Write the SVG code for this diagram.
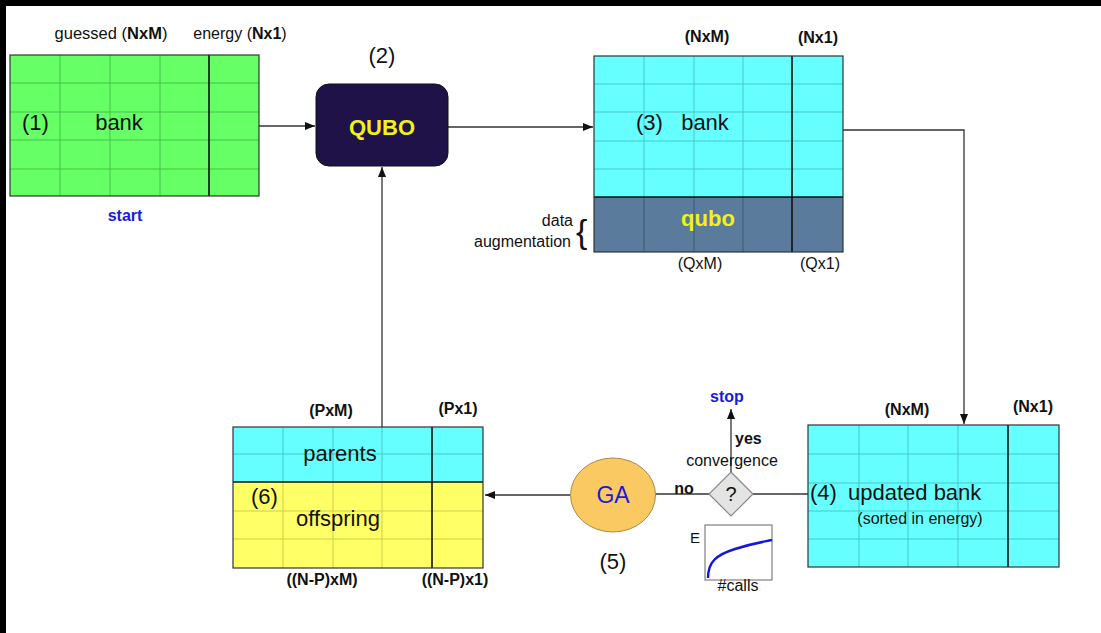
<svg xmlns="http://www.w3.org/2000/svg" width="1101" height="633" viewBox="0 0 1101 633">
<defs>
<style>
text{font-family:"Liberation Sans",Arial,sans-serif;fill:#111}
.s16{font-size:16px}
.s22{font-size:22px}
.b{font-weight:bold}
.mid{text-anchor:middle}
.end{text-anchor:end}
.blue{fill:#1a1adc}
.yel{fill:#f2f21a}
.gg{stroke:#45c445;stroke-width:1}
.cg{stroke:#45c8c8;stroke-width:1}
.qg{stroke:#3e5a74;stroke-width:1}
.yg{stroke:#cfcf48;stroke-width:1}
.div{stroke:#111;stroke-width:1.6}
.out{fill:none;stroke:#333;stroke-width:1.2}
.con{fill:none;stroke:#333;stroke-width:1.3}
</style>
<marker id="ah" viewBox="0 0 10 10" refX="10" refY="5" markerWidth="10" markerHeight="10" markerUnits="userSpaceOnUse" orient="auto">
<path d="M0,1 L10,5 L0,9 z" fill="#111"/>
</marker>
</defs>
<rect x="0" y="0" width="1101" height="633" fill="#fff"/>
<rect x="0" y="0" width="1101" height="6" fill="#000"/>
<rect x="0" y="0" width="6" height="633" fill="#000"/>

<g id="connectors">
<path class="con" d="M259,126 H315" marker-end="url(#ah)"/>
<path class="con" d="M448,127 H593" marker-end="url(#ah)"/>
<path class="con" d="M843,130 H964 V424" marker-end="url(#ah)"/>
<path class="con" d="M808,494 H753"/>
<path class="con" d="M709,494 H655"/>
<path class="con" d="M570,495 H485" marker-end="url(#ah)"/>
<path class="con" d="M731,472 V409" marker-end="url(#ah)"/>
<path class="con" d="M382,427 V167" marker-end="url(#ah)"/>
</g>

<g id="bank1">
<rect x="10" y="55" width="249" height="141" fill="#66ff66"/>
<path class="gg" d="M60,55V196M110,55V196M160,55V196M10,83H259M10,112H259M10,140H259M10,169H259"/>
<path class="div" d="M209,55V196"/>
<rect class="out" x="10" y="55" width="249" height="141"/>
<text class="mid" x="111" y="39" style="font-size:16.5px">guessed (<tspan class="b">NxM</tspan>)</text>
<text class="s16 mid" x="240" y="39">energy (<tspan class="b">Nx1</tspan>)</text>
<text class="s22" x="22" y="130">(1)</text>
<text class="s22 mid" x="119" y="130">bank</text>
<text class="s16 b mid blue" x="125" y="221">start</text>
</g>

<g id="qubo">
<rect x="316" y="84" width="132" height="82" rx="13" fill="#1e1248" stroke="#111" stroke-width="1"/>
<text class="s22 mid b yel" x="382" y="135">QUBO</text>
<text class="s22 mid" x="382" y="63">(2)</text>
</g>

<g id="bank3">
<rect x="594" y="56" width="249" height="141" fill="#66ffff"/>
<rect x="594" y="197" width="249" height="55" fill="#5a7b9b"/>
<path class="cg" d="M644,56V197M694,56V197M743,56V197M594,84H843M594,112H843M594,141H843M594,169H843"/>
<path class="qg" d="M644,197V252M694,197V252M743,197V252"/>
<path class="div" d="M792,56V252M594,197H843"/>
<rect class="out" x="594" y="56" width="249" height="196"/>
<text class="s16 b mid" x="707" y="42">(NxM)</text>
<text class="s16 b mid" x="818" y="43">(Nx1)</text>
<text class="s22" x="636" y="130">(3)</text>
<text class="s22 mid" x="705" y="130">bank</text>
<text class="s22 b mid yel" x="708" y="226">qubo</text>
<text class="s16 mid" x="700" y="269">(QxM)</text>
<text class="s16 mid" x="820" y="269">(Qx1)</text>
<text class="s16 end" x="573" y="226">data</text>
<text class="s16 end" x="571" y="247">augmentation</text>
<text x="576" y="243" style="font-size:34px">{</text>
</g>

<g id="bank4">
<rect x="808" y="425" width="251" height="142" fill="#66ffff"/>
<path class="cg" d="M859,425V567M908,425V567M958,425V567M808,454H1059M808,483H1059M808,511H1059M808,539H1059"/>
<path class="div" d="M1008,425V567"/>
<rect class="out" x="808" y="425" width="251" height="142"/>
<text class="s16 b mid" x="907" y="415">(NxM)</text>
<text class="s16 b mid" x="1033" y="412">(Nx1)</text>
<text class="s22" x="810" y="500">(4)</text>
<text class="s22" x="848" y="500">updated bank</text>
<text class="s16 mid" x="920" y="524">(sorted in energy)</text>
</g>

<g id="decision">
<polygon points="731,472 753,494 731,516 709,494" fill="#e4e4e4" stroke="#888" stroke-width="1.2"/>
<text class="mid" x="731" y="501" style="font-size:20px">?</text>
<text class="s16 b mid blue" x="727" y="402">stop</text>
<text class="s16 b" x="735" y="444">yes</text>
<text class="s16 mid" x="732" y="466">convergence</text>
<text class="s16 b mid" x="684" y="494">no</text>
</g>

<g id="plot">
<rect x="705" y="525" width="67" height="55" fill="#fff" stroke="#666" stroke-width="1"/>
<path d="M708,578 C708,562 716,555 735,549 S763,542 772,540" fill="none" stroke="#1515e0" stroke-width="2.5"/>
<text class="mid" x="695" y="543" style="font-size:15px">E</text>
<text class="s16 mid" x="738" y="591">#calls</text>
</g>

<g id="ga">
<ellipse cx="613" cy="495" rx="42.5" ry="37" fill="#fbc962" stroke="#a88a4c" stroke-width="1"/>
<text class="mid blue" x="613" y="503" style="font-size:23px">GA</text>
<text class="s22 mid" x="613" y="569">(5)</text>
</g>

<g id="bank6">
<rect x="233" y="427" width="250" height="55" fill="#66ffff"/>
<rect x="233" y="482" width="250" height="86" fill="#ffff66"/>
<path class="cg" d="M283,427V482M333,427V482M382,427V482M233,454H483"/>
<path class="yg" d="M283,482V568M333,482V568M382,482V568M233,511H483M233,539H483"/>
<path class="div" d="M432,427V568M233,482H483"/>
<rect class="out" x="233" y="427" width="250" height="141"/>
<text class="s16 b mid" x="331" y="416">(PxM)</text>
<text class="s16 b mid" x="458" y="414">(Px1)</text>
<text class="s22 mid" x="340" y="461">parents</text>
<text class="s22" x="251" y="504">(6)</text>
<text class="s22 mid" x="338" y="526">offspring</text>
<text class="s16 b mid" x="322" y="585">((N-P)xM)</text>
<text class="s16 b mid" x="455" y="585">((N-P)x1)</text>
</g>
</svg>
